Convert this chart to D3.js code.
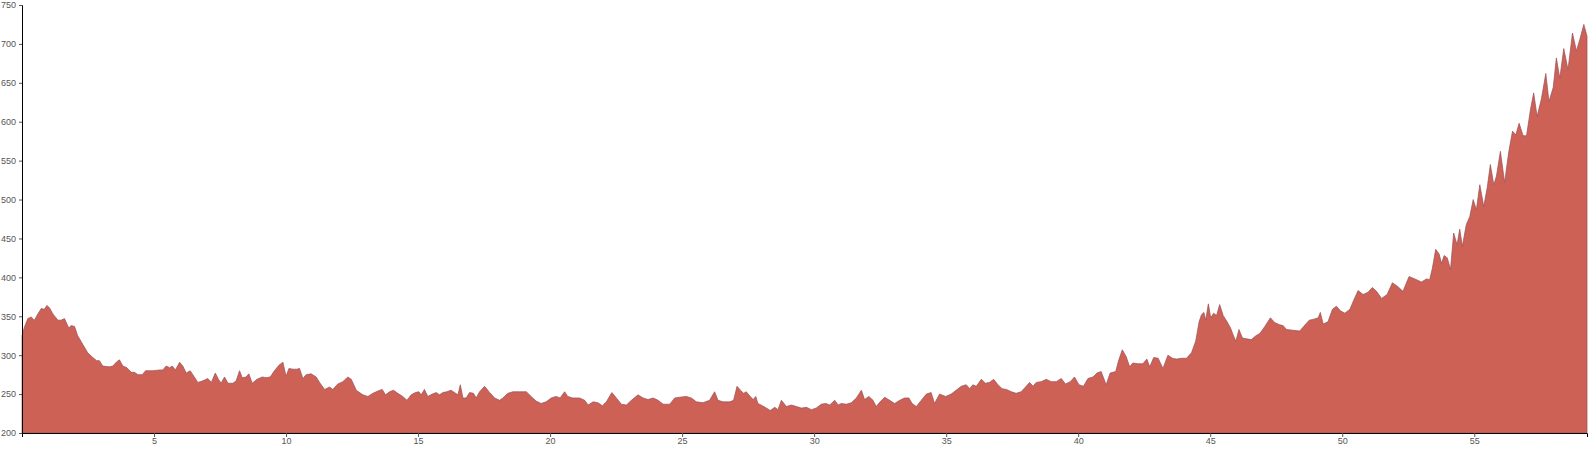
<!DOCTYPE html>
<html>
<head>
<meta charset="utf-8">
<script src="https://cdn.jsdelivr.net/npm/d3@7"></script>
<style>
  html, body { margin: 0; padding: 0; background: #fff; }
  svg { display: block; }
  .axis text { font-family: "Liberation Sans", Arial, sans-serif; font-size: 9px; fill: #555; }
  .axis line { stroke: #555; }
  .axis path { stroke: #000; }
</style>
</head>
<body>
<svg id="chart" width="1592" height="451"></svg>
<script>
const xValues = [
  0.00,0.09,0.22,0.35,0.47,0.60,0.73,0.85,0.94,1.04,1.17,1.36,1.48,1.61,1.77,1.86,1.99,2.11,2.30,2.49,
  2.68,2.83,2.93,3.06,3.31,3.44,3.57,3.69,3.82,3.97,4.14,4.26,4.39,4.55,4.68,4.96,5.21,5.33,5.46,5.59,
  5.69,5.81,5.97,6.09,6.22,6.37,6.47,6.66,6.85,7.04,7.17,7.32,7.44,7.54,7.67,7.80,7.99,8.11,8.24,8.34,
  8.49,8.59,8.72,8.90,9.10,9.25,9.40,9.56,9.73,9.88,10.00,10.11,10.26,10.41,10.51,
  10.64,10.76,10.95,11.14,11.29,11.46,11.65,11.77,11.96,12.15,12.34,12.47,12.66,12.91,13.10,13.29,13.48,13.64,13.77,13.92,
  14.07,14.23,14.42,14.58,14.74,14.90,15.03,15.12,15.24,15.37,15.54,15.69,15.81,15.94,16.09,16.25,16.38,16.51,16.60,16.70,
  16.82,16.95,17.10,17.20,17.33,17.52,17.71,17.90,18.09,18.21,18.40,18.59,18.84,19.10,19.28,19.47,19.66,19.85,20.04,20.23,
  20.38,20.55,20.67,20.86,
  21.12,21.31,21.44,21.63,21.81,21.98,22.13,22.34,22.51,22.70,22.89,23.08,23.33,23.52,23.71,23.90,24.09,24.28,24.53,24.72,
  24.91,25.16,25.35,25.54,25.79,26.04,26.23,26.36,26.55,26.80,26.95,27.08,27.21,27.33,27.43,27.58,27.69,27.79,27.87,28.04,
  28.19,28.34,28.51,28.63,28.76,28.95,29.14,29.33,29.52,29.71,29.90,30.08,30.27,30.44,30.59,30.78,30.91,31.03,31.22,31.41,
  31.60,31.79,
  31.91,32.07,32.23,32.35,32.50,32.67,32.86,33.05,33.24,33.42,33.59,33.71,33.87,34.06,34.25,34.43,34.56,34.75,34.98,35.19,
  35.38,35.57,35.76,35.89,36.01,36.14,36.33,36.49,36.64,36.80,36.96,37.12,37.28,37.47,37.65,37.84,38.03,38.16,38.29,38.41,
  38.60,38.79,38.98,39.17,39.36,39.52,39.70,39.86,40.03,40.20,40.37,40.56,40.71,40.87,41.06,41.21,41.42,41.54,41.67,41.82,
  41.95,42.07,42.26,42.45,42.60,
  42.71,42.86,43.03,43.21,43.40,43.57,43.72,43.91,44.10,44.29,44.45,44.58,44.67,44.76,44.83,44.93,45.02,45.13,45.24,45.36,
  45.49,45.64,45.77,45.87,45.97,46.09,46.22,46.37,46.56,46.73,46.88,47.07,47.28,47.44,47.63,47.76,47.89,48.14,48.39,48.54,
  48.75,48.90,49.09,49.17,49.28,49.46,49.63,49.78,49.93,50.10,50.29,50.44,50.60,50.79,50.98,51.14,51.30,
  51.49,51.70,51.90,52.11,52.30,52.53,52.75,53.00,53.19,53.31,53.41,53.54,53.67,53.76,53.86,53.98,54.10,54.22,54.35,54.45,
  54.55,54.70,54.83,54.96,55.08,55.21,55.36,55.49,55.61,55.74,55.84,55.99,56.15,56.31,56.45,56.57,56.70,56.85,56.98,57.13,
  57.25,57.38,57.54,57.71,57.83,57.99,58.11,58.24,58.39,58.55,58.72,58.87,59.00,59.15,59.27
];

const yValues = [
  325,336,347,349,345,353,360,359,364,361,353,345,345,347,335,338,337,325,314,303,
  297,293,293,286,285,286,291,294,286,284,278,278,275,275,280,280,281,281,286,284,
  286,281,291,286,277,280,275,265,267,270,265,277,269,264,272,264,264,267,280,271,
  272,276,264,269,272,271,272,280,287,291,273,283,282,282,283,
  270,275,276,272,264,256,259,256,263,266,272,269,255,249,247,251,254,256,249,253,
  255,251,247,242,249,252,253,249,256,247,250,252,249,252,253,255,252,249,262,245,
  245,252,251,245,253,260,252,245,242,245,251,253,253,253,247,241,238,240,245,247,
  245,253,247,245,
  245,242,236,240,239,235,240,252,245,237,236,242,249,245,243,245,242,237,237,245,
  246,247,245,240,239,242,253,242,240,240,242,260,255,251,253,247,243,247,238,235,
  232,229,233,230,242,234,236,234,232,233,230,232,237,238,236,242,236,238,237,239,
  245,255,
  243,247,242,234,240,246,242,238,242,245,245,238,234,242,250,252,238,250,247,250,
  255,260,262,257,262,260,269,264,265,269,262,257,256,253,251,253,260,265,260,265,
  266,269,266,266,270,263,266,272,262,260,270,272,277,279,262,277,279,294,307,298,
  285,290,289,289,295,
  285,297,296,283,300,296,295,296,296,303,318,343,352,355,345,366,348,354,351,365,
  351,343,335,326,318,333,322,321,320,325,328,337,348,342,339,338,333,332,331,337,
  345,346,348,355,340,343,359,363,357,354,359,371,383,378,381,387,382,
  373,378,393,388,382,401,398,394,398,397,411,436,430,418,428,425,410,457,442,462,
  440,468,478,500,487,519,491,515,545,519,530,562,522,562,588,583,598,582,582,616,
  637,607,629,662,626,644,682,656,694,667,714,691,706,725,710
];

const xTicks = [5, 10, 15, 20, 25, 30, 35, 40, 45, 50, 55];
const yTicks = [200, 250, 300, 350, 400, 450, 500, 550, 600, 650, 700, 750];

const data = xValues.map((x, i) => ({ x: x, y: yValues[i] }));

const W = 1592, H = 451;
const margin = { top: 5, right: 5, bottom: 18, left: 22 };
const width = W - margin.left - margin.right;
const height = H - margin.top - margin.bottom;

const svg = d3.select("#chart");
const g = svg.append("g").attr("transform", `translate(${margin.left},${margin.top})`);

const x = d3.scaleLinear().domain(d3.extent(xValues)).range([0, width]);
const y = d3.scaleLinear().domain([200, 750]).range([height, 0]);

const area = d3.area()
  .x(d => x(d.x))
  .y0(y(200))
  .y1(d => y(d.y));

g.append("path")
  .datum(data)
  .attr("d", area)
  .attr("fill", "#cd6155")
  .attr("stroke", "#9a4f58")
  .attr("stroke-width", 0.7);

g.append("g")
  .attr("class", "axis")
  .attr("transform", `translate(0,${height})`)
  .call(d3.axisBottom(x).tickValues(xTicks).tickFormat(d3.format("d")).tickSize(4).tickPadding(1));

g.append("g")
  .attr("class", "axis")
  .call(d3.axisLeft(y).tickValues(yTicks).tickFormat(d3.format("d")).tickSize(3).tickPadding(3));
</script>
</body>
</html>
